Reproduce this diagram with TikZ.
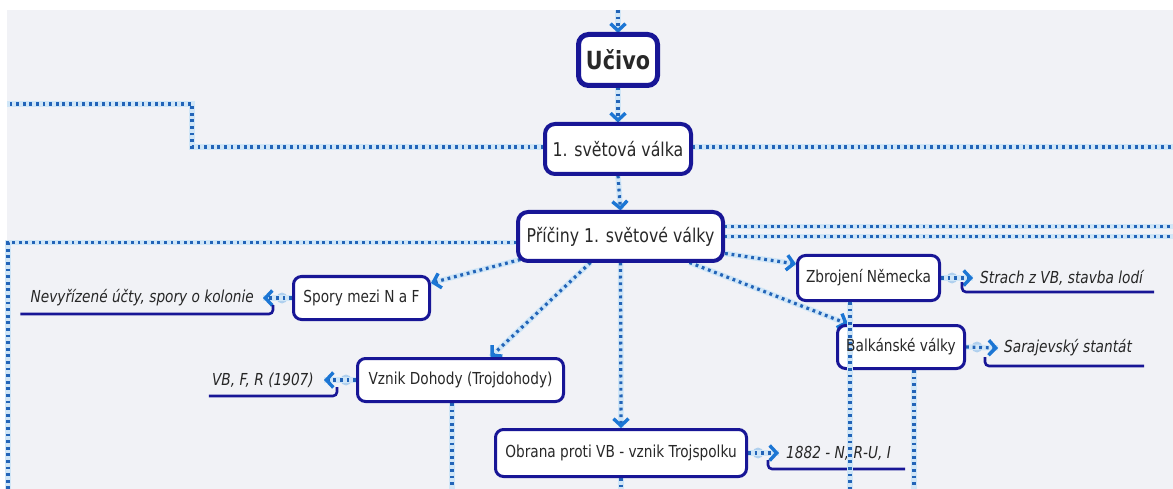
\documentclass[tikz,border=0pt]{standalone}
\usepackage{fontspec}
\setmainfont{DejaVu Sans}[FakeStretch=0.83]
\usetikzlibrary{arrows.meta}

\definecolor{bgc}{RGB}{241,242,246}
\definecolor{navy}{RGB}{24,22,150}
\definecolor{dotc}{RGB}{34,100,184}
\definecolor{haloc}{RGB}{208,230,247}
\definecolor{tipc}{RGB}{28,118,212}
\definecolor{knob}{RGB}{176,208,238}
\definecolor{txt}{RGB}{40,40,40}

\begin{document}
\begin{tikzpicture}[x=1pt,y=-1pt,
  box/.style={draw=navy, fill=white, rounded corners=8pt, line width=3pt,
    inner sep=0pt, text=txt, font=\fontsize{16.5}{18}\selectfont},
  bigbox/.style={box, rounded corners=10pt, line width=4pt,
    font=\fontsize{19}{22}\selectfont},
  link/.style={draw=dotc, line width=3.2pt, dash pattern=on 2.8pt off 3.8pt,
    preaction={draw=haloc, line width=5.5pt, solid, -}},
  arr/.style={link, -{Straight Barb[length=7pt, width=15pt, line width=3.4pt, color=tipc]}},
  note/.style={font=\fontsize{16.5}{18}\selectfont\itshape, text=black!85, inner sep=0pt},
  underl/.style={draw=navy, line width=2.6pt, rounded corners=4pt},
  knobdot/.style={fill=knob},
]
% page and canvas
\fill[white] (0,0) rectangle (1173,489);
\fill[bgc] (7,10) rectangle (1173,489);
\useasboundingbox (0,0) rectangle (1173,489);

% frame coordinates for lines that leave the canvas
\coordinate (top) at (618,10);
\coordinate (w1) at (192,104);
\coordinate (w2) at (7,104);
\coordinate (east) at (1173,0);
\coordinate (w3) at (8,489);
\coordinate (b1) at (452,489);
\coordinate (b2) at (621,489);
\coordinate (b3) at (850,489);
\coordinate (b4) at (914,489);

% nodes (placed first, painted later)
\path
  node[box, draw=none, fill=none, minimum width=79, minimum height=51] (ucivo) at (618,60) {}
  node[box, draw=none, fill=none, minimum width=146, minimum height=50] (svet) at (618,149) {}
  node[box, draw=none, fill=none, minimum width=205, minimum height=49] (priciny) at (620.5,236.5) {}
  node[box, draw=none, fill=none, minimum width=136, minimum height=43] (spory) at (361.5,298) {}
  node[box, draw=none, fill=none, minimum width=206, minimum height=43] (vznik) at (460.5,380) {}
  node[box, draw=none, fill=none, minimum width=251, minimum height=47] (obrana) at (621,453) {}
  node[box, draw=none, fill=none, minimum width=142, minimum height=45] (zbro) at (868.5,278) {}
  node[box, draw=none, fill=none, minimum width=127, minimum height=43] (balk) at (901,347) {};

% side labels
\node[note, anchor=east] (nev) at (254,298) {Nevyřízené účty, spory o kolonie};
\node[note, anchor=east] (vbfr) at (314,380) {VB, F, R (1907)};
\node[note, anchor=west] (troj) at (786,453) {1882 - N, R-U, I};
\node[note, anchor=west] (strach) at (980,278) {Strach z VB, stavba lodí};
\node[note, anchor=west] (saraj) at (1004,348) {Sarajevský stantát};

% knobs where side labels hang off their boxes
\fill[knobdot] ([xshift=-10pt]spory.west) circle (5.5pt);
\fill[knobdot] ([xshift=-10pt]vznik.west) circle (5.5pt);
\fill[knobdot] ([xshift=10pt]obrana.east) circle (5.5pt);
\fill[knobdot] ([xshift=11pt]zbro.east) circle (5.5pt);
\fill[knobdot] ([xshift=11pt]balk.east) circle (5.5pt);

% main chain
\draw[arr] (top) -- (ucivo.north);
\draw[arr] (ucivo.south) -- (svet.north);
\draw[arr] (svet.south) -- (priciny.north);

% long branches leaving the canvas
\draw[link] ([yshift=2pt]svet.west) -- ([yshift=2pt]svet.west -| w1) -- (w1) -- (w2);
\draw[link] ([yshift=2pt]svet.east) -- ([yshift=2pt]svet.east -| east);
\draw[link] ([yshift=-6pt]priciny.west) -- ([yshift=-6pt]priciny.west -| w3) -- (w3);
\draw[link] ([yshift=10pt]priciny.east) -- ([yshift=10pt]priciny.east -| east);
\draw[link] (priciny.east) -- (priciny.east -| east);

% causes
\draw[arr] ([xshift=4pt,yshift=3pt]priciny.south west) -- ([yshift=-8pt]spory.north east);
\draw[arr] ([xshift=-30pt]priciny.south) -- ([xshift=30pt]vznik.north);
\draw[arr] (priciny.south) -- (obrana.north);
\draw[arr] ([xshift=-6pt,yshift=-16pt]priciny.east) -- ([yshift=-10pt]zbro.north west);
\draw[arr] ([xshift=-35pt]priciny.south east) -- ([xshift=12pt]balk.north west);

% side label connectors
\draw[arr] (spory.west) -- ([xshift=9pt]nev.east);
\draw[arr] (vznik.west) -- ([xshift=10pt]vbfr.east);
\draw[arr] (obrana.east) -- ([xshift=-7pt]troj.west);
\draw[arr] (zbro.east) -- ([xshift=-7pt]strach.west);
\draw[arr] (balk.east) -- ([xshift=-6pt]saraj.west);

% underlines of side labels
\draw[underl] ([xshift=-10pt,yshift=-16pt]nev.west) -- ([xshift=19pt,yshift=-16pt]nev.east) -- ([xshift=19pt,yshift=-7pt]nev.east);
\draw[underl] ([xshift=-3pt,yshift=-16pt]vbfr.west) -- ([xshift=23pt,yshift=-16pt]vbfr.east) -- ([xshift=23pt,yshift=-7pt]vbfr.east);
\draw[underl] ([xshift=-18pt,yshift=-7pt]troj.west) -- ([xshift=-18pt,yshift=-16pt]troj.west) -- ([xshift=14pt,yshift=-16pt]troj.east);
\draw[underl] ([xshift=-18pt,yshift=-4pt]strach.west) -- ([xshift=-18pt,yshift=-14pt]strach.west) -- ([xshift=11pt,yshift=-14pt]strach.east);
\draw[underl] ([xshift=-19pt,yshift=-9pt]saraj.west) -- ([xshift=-19pt,yshift=-18pt]saraj.west) -- ([xshift=12pt,yshift=-18pt]saraj.east);

% branches continuing below
\draw[link] (vznik.south -| b1) -- (b1);
\draw[link] (obrana.south) -- (obrana.south |- b2);
\draw[link] (balk.south -| b4) -- (b4);

% boxes
\node[bigbox, line width=5pt, font=\fontsize{25}{28}\selectfont\bfseries,
  minimum width=79, minimum height=51] at (ucivo) {Učivo};
\node[bigbox, minimum width=146, minimum height=50] at (svet) {1. světová válka};
\node[bigbox, minimum width=205, minimum height=49] at (priciny) {Příčiny 1. světové války};
\node[box, minimum width=136, minimum height=43] at (spory) {Spory mezi N a F};
\node[box, minimum width=206, minimum height=43] at (vznik) {Vznik Dohody (Trojdohody)};
\node[box, minimum width=251, minimum height=47] at (obrana) {Obrana proti VB - vznik Trojspolku};
\node[box, minimum width=142, minimum height=45] at (zbro) {Zbrojení Německa};
\node[box, minimum width=127, minimum height=43] at (balk) {};

% branch from Zbrojení Německa running over the box below it
\draw[link] (zbro.south -| b3) -- (b3);

% text of the lower box stays readable over that branch
\node[box, draw=none, fill=none] at (balk) {Balkánské války};
\end{tikzpicture}
\end{document}
